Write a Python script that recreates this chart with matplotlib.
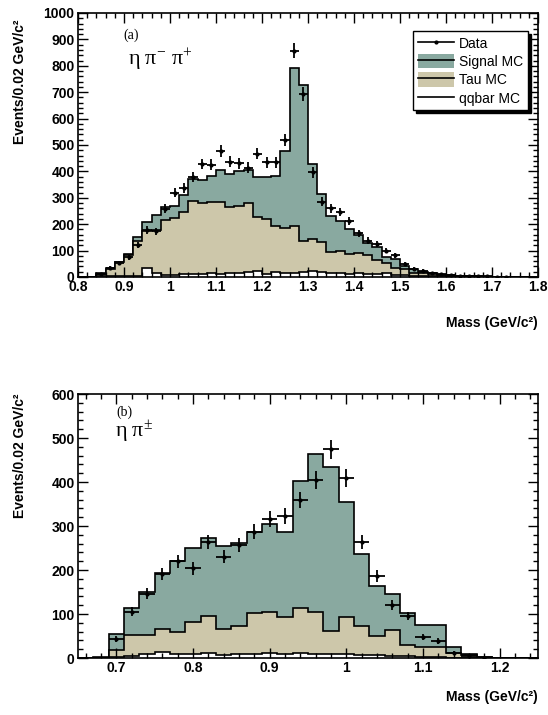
import numpy as np
import matplotlib
matplotlib.use("Agg")
import matplotlib.pyplot as plt
from matplotlib.ticker import MultipleLocator
from matplotlib.patches import Patch
from matplotlib.lines import Line2D

plt.rcParams['font.family'] = ['Liberation Sans', 'DejaVu Sans']
plt.rcParams['mathtext.fontset'] = 'custom'
plt.rcParams['mathtext.rm'] = 'Liberation Serif'
plt.rcParams['mathtext.it'] = 'Liberation Serif:italic'

# ---- panel (a): eta pi- pi+, 0.8 - 1.8 GeV, 0.02 bins
edges_a = np.round(np.arange(0.80, 1.8001, 0.02), 2)
sig_a = [0, 0, 5, 6, 3, 3, 15, 33, 56, 50,
         48, 62, 81, 87, 100, 120, 125, 131, 125, 152,
         159, 189, 293, 600, 589, 285, 183, 139, 112, 94,
         70, 45, 51, 23, 34, 14, 13, 4, 3, 3,
         2, 1, 1, 1, 0, 1, 0, 0, 0, 0]
tau_a = [0, 0, 8, 25, 51, 78, 134, 142, 164, 208,
         214, 237, 278, 269, 270, 273, 249, 253, 261, 203,
         210, 176, 170, 179, 120, 120, 111, 79, 86, 74,
         76, 73, 54, 38, 25, 23, 11, 12, 8, 4,
         3, 2, 1, 1, 1, 0, 0, 0, 0, 0]
qq_a = [0, 0, 3, 4, 4, 5, 4, 33, 14, 8,
        8, 10, 11, 10, 14, 11, 16, 16, 18, 23,
        11, 18, 14, 14, 18, 23, 20, 14, 14, 12,
        14, 10, 10, 14, 8, 6, 5, 4, 3, 2,
        1, 1, 1, 0, 0, 0, 0, 0, 0, 0]
data_a = [0, 0, 10, 35, 54, 74, 121, 178, 174, 259,
          319, 338, 379, 428, 425, 477, 437, 430, 414, 467,
          434, 434, 519, 857, 693, 396, 285, 260, 246, 213,
          165, 138, 124, 100, 82, 48, 32, 24, 15, 11,
          6, 4, 3, 2, 2, 1, 1, 0, 0, 0]

# ---- panel (b): eta pi+-, 0.65 - 1.25 GeV, 0.02 bins
edges_b = np.round(np.arange(0.65, 1.2501, 0.02), 2)
sig_b = [0, 1, 36, 62, 98, 128, 161, 170, 177, 189,
         188, 184, 201, 192, 290, 359, 371, 261, 163, 113,
         82, 72, 51, 51, 13, 2, 1, 0, 0, 0]
tau_b = [0, 1, 15, 48, 44, 52, 52, 72, 84, 58,
         65, 95, 92, 84, 101, 95, 54, 84, 66, 43,
         59, 26, 21, 22, 10, 7, 2, 0, 0, 0]
qq_b = [0, 0, 3, 4, 8, 13, 8, 9, 12, 7,
        8, 8, 12, 10, 12, 10, 8, 10, 7, 7,
        5, 4, 3, 2, 1, 0, 0, 0, 0, 0]
data_b = [0, 0, 44, 105, 146, 190, 220, 204, 263, 230,
          257, 287, 316, 322, 359, 405, 474, 410, 264, 186,
          120, 95, 47, 39, 12, 5, 1, 0, 0, 0]

c_sig = '#89a9a0'
c_tau = '#cdc7aa'
c_qq = 'white'


def draw_panel(ax, edges, sig, tau, qq, data):
    sig, tau, qq, data = map(np.asarray, (sig, tau, qq, data))
    tot = sig + tau + qq
    tq = tau + qq
    # stacked: total (signal colour), tau+qq, qq on top
    for vals, col in ((tot, c_sig), (tq, c_tau), (qq, c_qq)):
        ax.stairs(vals, edges, fill=True, facecolor=col, edgecolor='none')
        ax.stairs(vals, edges, color='black', linewidth=1.2)
    centers = 0.5 * (edges[:-1] + edges[1:])
    m = data > 0
    ax.errorbar(centers[m], data[m], xerr=0.01, yerr=np.sqrt(data[m]),
                fmt='o', ms=2, color='black', elinewidth=1.3, capsize=0)


def style_axes(ax, xmaj, xmin, ymaj, ymin):
    ax.xaxis.set_major_locator(MultipleLocator(xmaj))
    ax.xaxis.set_minor_locator(MultipleLocator(xmin))
    ax.yaxis.set_major_locator(MultipleLocator(ymaj))
    ax.yaxis.set_minor_locator(MultipleLocator(ymin))
    ax.xaxis.set_major_formatter(plt.FuncFormatter(lambda v, p: f'{v:g}'))
    ax.tick_params(which='both', direction='in', top=True, right=True,
                   width=1.0)
    ax.tick_params(which='major', length=7, labelsize=10, pad=2.5)
    ax.tick_params(which='minor', length=3.5)
    for lab in ax.get_xticklabels() + ax.get_yticklabels():
        lab.set_fontweight('bold')
    for sp in ax.spines.values():
        sp.set_linewidth(1.2)


fig = plt.figure(figsize=(5.48, 7.15), dpi=100)
ax1 = fig.add_axes([78/548, 1-277/715, 460/548, 264/715])
ax2 = fig.add_axes([78/548, 1-658/715, 460/548, 264/715])

draw_panel(ax1, edges_a, sig_a, tau_a, qq_a, data_a)
ax1.set_xlim(0.8, 1.8)
ax1.set_ylim(0, 1000)
style_axes(ax1, 0.1, 0.02, 100, 20)

draw_panel(ax2, edges_b, sig_b, tau_b, qq_b, data_b)
ax2.set_xlim(0.65, 1.25)
ax2.set_ylim(0, 600)
style_axes(ax2, 0.1, 0.02, 100, 20)

ylab = 'Events/0.02 GeV/c\u00b2'
xlab = 'Mass (GeV/c\u00b2)'
ax1.text(-0.126, 0.975, ylab, rotation=90, ha='center', va='top',
         transform=ax1.transAxes, fontsize=10, fontweight='bold')
ax2.text(-0.126, 1.0, ylab, rotation=90, ha='center', va='top',
         transform=ax2.transAxes, fontsize=10, fontweight='bold')
ax1.text(1.0, -0.174, xlab, ha='right', va='center',
         transform=ax1.transAxes, fontsize=10, fontweight='bold')
ax2.text(1.0, -0.148, xlab, ha='right', va='center',
         transform=ax2.transAxes, fontsize=10, fontweight='bold')

ax1.text(0.098, 0.917, '(a)', transform=ax1.transAxes, va='center',
         family='Liberation Serif', fontsize=10)
ax1.text(0.109, 0.822, r'$\mathrm{\eta\ \pi^{-}\ \pi^{+}}$',
         transform=ax1.transAxes, va='center', fontsize=16)
ax2.text(0.083, 0.932, '(b)', transform=ax2.transAxes, va='center',
         family='Liberation Serif', fontsize=10)
ax2.text(0.080, 0.856, r'$\mathrm{\eta\ \pi^{\pm}}$',
         transform=ax2.transAxes, va='center', fontsize=16)

# legend, ROOT style: fill box with a line through it
handles = [
    Line2D([], [], color='black', marker='o', ms=2, lw=1.2),
    (Patch(facecolor=c_sig, edgecolor='none'), Line2D([], [], color='black', lw=1.2)),
    (Patch(facecolor=c_tau, edgecolor='none'), Line2D([], [], color='black', lw=1.2)),
    (Patch(facecolor=c_qq, edgecolor='none'), Line2D([], [], color='black', lw=1.2)),
]
labels = ['Data', 'Signal MC', 'Tau MC', 'qqbar MC']
leg = ax1.legend(handles, labels, loc='upper right',
                 bbox_to_anchor=(528/548, 1-31/715),
                 bbox_transform=fig.transFigure, borderaxespad=0,
                 fontsize=10, fancybox=False, framealpha=1,
                 edgecolor='black', handlelength=2.6, handleheight=1.2,
                 handletextpad=0.35, labelspacing=0.25, borderpad=0.35,
                 shadow={'color': 'black', 'alpha': 1})
leg.get_frame().set_linewidth(1.0)

fig.savefig('out.png', dpi=100)
